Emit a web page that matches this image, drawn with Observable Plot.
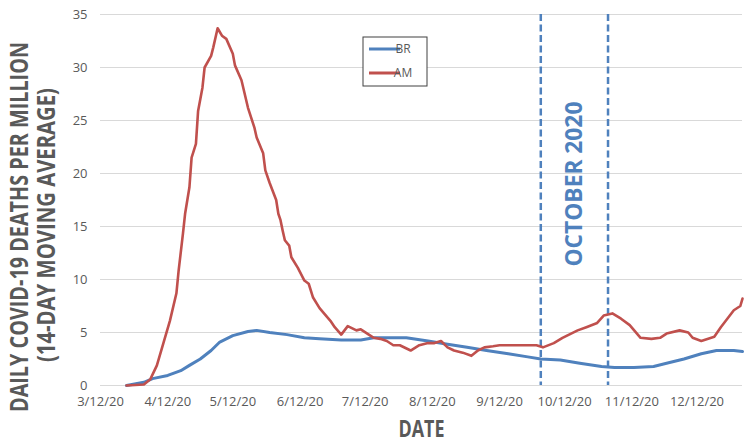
<!DOCTYPE html>
<html><head><meta charset="utf-8">
<script src="https://cdn.jsdelivr.net/npm/d3@7"></script>
<script src="https://cdn.jsdelivr.net/npm/@observablehq/plot@0.6"></script>
<style>
body{margin:0;background:#fff;}
#chart{width:750px;height:445px;}
</style></head><body><div id="chart"></div>
<script>
const seriesNames = ["BR", "AM"];
const seriesColors = ["#4f81bd", "#c0504d"];

const brDates = ["2020-03-24","2020-04-01","2020-04-05","2020-04-12","2020-04-18","2020-04-22","2020-04-27","2020-05-02","2020-05-06","2020-05-12","2020-05-19","2020-05-23","2020-05-29","2020-06-06","2020-06-14","2020-06-21","2020-07-01","2020-07-10","2020-07-16","2020-07-24","2020-07-31","2020-08-10","2020-08-19","2020-08-28","2020-09-06","2020-09-16","2020-09-25","2020-10-01","2020-10-10","2020-10-19","2020-10-29","2020-11-04","2020-11-13","2020-11-22","2020-11-28","2020-12-06","2020-12-14","2020-12-21","2020-12-29","2021-01-02"];
const brValues = [0.0,0.3,0.65,0.95,1.4,1.9,2.5,3.3,4.1,4.7,5.1,5.2,5.0,4.8,4.5,4.4,4.3,4.3,4.5,4.5,4.5,4.2,3.9,3.6,3.3,3.0,2.7,2.5,2.4,2.1,1.8,1.7,1.7,1.8,2.1,2.5,3.0,3.3,3.3,3.2];

const amDates = ["2020-03-24","2020-04-01","2020-04-04","2020-04-07","2020-04-10","2020-04-13","2020-04-16","2020-04-17","2020-04-19","2020-04-20","2020-04-22","2020-04-23","2020-04-25","2020-04-26","2020-04-28","2020-04-29","2020-05-02","2020-05-03","2020-05-05","2020-05-07","2020-05-09","2020-05-12","2020-05-13","2020-05-16","2020-05-19","2020-05-22","2020-05-23","2020-05-26","2020-05-27","2020-05-29","2020-06-01","2020-06-02","2020-06-03","2020-06-04","2020-06-05","2020-06-07","2020-06-08","2020-06-11","2020-06-14","2020-06-16","2020-06-18","2020-06-21","2020-06-26","2020-06-28","2020-07-01","2020-07-04","2020-07-08","2020-07-10","2020-07-13","2020-07-16","2020-07-19","2020-07-22","2020-07-25","2020-07-28","2020-08-02","2020-08-06","2020-08-10","2020-08-13","2020-08-16","2020-08-19","2020-08-22","2020-08-26","2020-08-30","2020-09-02","2020-09-05","2020-09-09","2020-09-12","2020-09-17","2020-09-22","2020-09-26","2020-09-29","2020-10-02","2020-10-07","2020-10-11","2020-10-18","2020-10-22","2020-10-27","2020-10-30","2020-11-03","2020-11-07","2020-11-11","2020-11-16","2020-11-21","2020-11-25","2020-11-28","2020-12-04","2020-12-08","2020-12-10","2020-12-14","2020-12-20","2020-12-23","2020-12-26","2020-12-29","2021-01-01","2021-01-02"];
const amValues = [0.0,0.1,0.6,1.9,4.0,6.1,8.7,10.8,14.3,16.2,18.7,21.5,22.8,25.9,28.1,30.0,31.1,31.9,33.7,33.0,32.7,31.3,30.2,28.8,26.2,24.3,23.4,21.9,20.3,19.1,17.5,16.2,15.6,14.6,13.7,13.2,12.1,11.1,9.9,9.6,8.3,7.3,6.1,5.5,4.8,5.6,5.2,5.3,4.9,4.5,4.4,4.2,3.8,3.8,3.3,3.8,4.0,4.0,4.2,3.6,3.3,3.1,2.8,3.3,3.6,3.7,3.8,3.8,3.8,3.8,3.8,3.6,4.0,4.5,5.2,5.5,5.9,6.6,6.8,6.3,5.7,4.5,4.4,4.5,4.9,5.2,5.0,4.5,4.2,4.6,5.5,6.3,7.1,7.5,8.2];

const xDomain = ["2020-03-12", "2021-01-02"];
const xTickDates = ["2020-03-12","2020-04-12","2020-05-12","2020-06-12","2020-07-12","2020-08-12","2020-09-12","2020-10-12","2020-11-12","2020-12-12"];
const xTickLabels = ["3/12/20","4/12/20","5/12/20","6/12/20","7/12/20","8/12/20","9/12/20","10/12/20","11/12/20","12/12/20"];
const yTicks = [0, 5, 10, 15, 20, 25, 30, 35];

const octoberBounds = ["2020-10-01", "2020-11-01"];
const octoberLabel = "OCTOBER 2020";
const octoberLabelValue = 19;
const yTitleLines = ["DAILY COVID-19 DEATHS PER MILLION", "(14-DAY MOVING AVERAGE)"];
const xTitle = "DATE";

const parse = d3.utcParse("%Y-%m-%d");
const rows = [
  ...brDates.map((d, i) => ({series: "BR", date: parse(d), value: brValues[i]})),
  ...amDates.map((d, i) => ({series: "AM", date: parse(d), value: amValues[i]}))
];
const labelByTime = new Map(xTickDates.map((d, i) => [+parse(d), xTickLabels[i]]));
const octDates = octoberBounds.map(parse);
const octMid = new Date((+octDates[0] + +octDates[1]) / 2);

const boldFont = "'Open Sans', sans-serif";
const titleColor = "#595959";

const plot = Plot.plot({
  width: 750, height: 445,
  marginLeft: 100, marginRight: 8, marginTop: 14, marginBottom: 60,
  style: {fontFamily: "'Open Sans', sans-serif", fontSize: "13px", color: "#595959", background: "#fff"},
  x: {type: "utc", domain: xDomain.map(parse)},
  y: {domain: [0, 35]},
  marks: [
    Plot.gridY(yTicks, {stroke: "#d9d9d9", strokeOpacity: 1, strokeWidth: 1}),
    Plot.axisY(yTicks, {tickSize: 0, tickPadding: 13, label: null, fill: "#595959", fontSize: 13}),
    Plot.axisX(xTickDates.map(parse), {tickSize: 0, tickPadding: 11, label: null, fill: "#595959", fontSize: 13,
      tickFormat: d => labelByTime.get(+d)}),
    Plot.ruleX(octDates, {stroke: "#4f81bd", strokeWidth: 2.5, strokeDasharray: "7,3.5"}),
    Plot.text([octoberLabel], {text: d => d, x: () => octMid, y: () => octoberLabelValue, rotate: -90,
      textAnchor: "middle", fontSize: 23, fontWeight: "bold", fill: "#4f81bd", fontFamily: boldFont}),
    Plot.line(rows.filter(r => r.series === "BR"), {x: "date", y: "value", stroke: seriesColors[0], strokeWidth: 3}),
    Plot.line(rows.filter(r => r.series === "AM"), {x: "date", y: "value", stroke: seriesColors[1], strokeWidth: 2.6}),
    Plot.text([yTitleLines[0]], {text: d => d, frameAnchor: "left", textAnchor: "middle", dx: -81, dy: 27, rotate: -90,
      fontSize: 25, fontWeight: "bold", fill: titleColor, fontFamily: boldFont}),
    Plot.text([yTitleLines[1]], {text: d => d, frameAnchor: "left", textAnchor: "middle", dx: -54, dy: 25, rotate: -90,
      fontSize: 25, fontWeight: "bold", fill: titleColor, fontFamily: boldFont}),
    Plot.text([xTitle], {text: d => d, frameAnchor: "bottom", textAnchor: "middle", dy: 51,
      fontSize: 23, fontWeight: "bold", fill: titleColor, fontFamily: boldFont})
  ]
});

const svg = d3.select(plot);
const fit = (str, len) => svg.selectAll("text")
  .filter(function() { return this.textContent === str; })
  .attr("textLength", len).attr("lengthAdjust", "spacingAndGlyphs");
fit(yTitleLines[0], 370);
fit(yTitleLines[1], 274);
fit(xTitle, 46);
fit(octoberLabel, 165);

// legend box
const lg = svg.append("g").attr("aria-label", "legend");
lg.append("rect").attr("x", 363).attr("y", 37).attr("width", 64).attr("height", 49)
  .attr("fill", "#fff").attr("stroke", "#404040").attr("stroke-width", 1);
seriesNames.forEach((s, i) => {
  const y = 49 + i * 24;
  lg.append("line").attr("x1", 369).attr("x2", 400).attr("y1", y).attr("y2", y)
    .attr("stroke", seriesColors[i]).attr("stroke-width", 3);
  lg.append("text").attr("x", 403).attr("y", y).attr("dy", "0.35em")
    .attr("font-family", "'Open Sans', sans-serif").attr("font-size", 12).attr("fill", "#595959").text(s);
});

document.getElementById("chart").appendChild(plot);
</script>
</body></html>
